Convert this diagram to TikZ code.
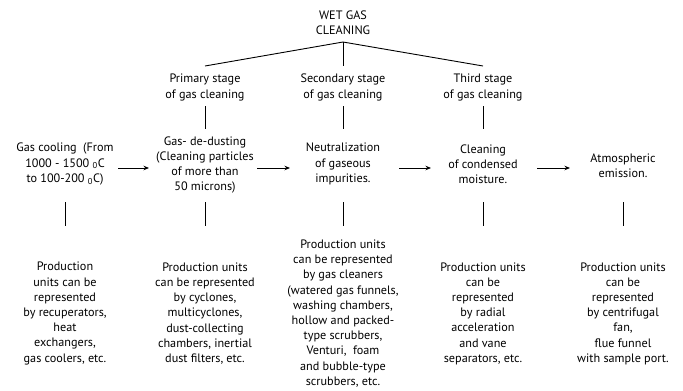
\documentclass[tikz,border=0pt]{standalone}
\usepackage{fontspec}
\setmainfont{PT Sans}
\usetikzlibrary{arrows.meta}
\begin{document}
\begin{tikzpicture}[x=1pt,y=-1pt,
  lbl/.style={align=center,font=\fontsize{12.2}{15.2}\selectfont,inner sep=0pt},
  ln/.style={line width=0.9pt},
  arr/.style={line width=0.9pt,-{Stealth[length=5.5pt,width=4.5pt]}}]
\useasboundingbox (0,0) rectangle (683,391);
% title
\node[lbl] (title) at (343,22.5) {WET GAS\\CLEANING};
\coordinate (apex) at (343,42);
% stages
\node[lbl] (s1) at (205,87.5) {Primary stage\\of gas cleaning};
\node[lbl] (s2) at (343,87.5) {Secondary stage\\of gas cleaning};
\node[lbl] (s3) at (483,87.5) {Third stage\\of gas cleaning};
\coordinate (t1) at (205,66);
\coordinate (t2) at (343,66);
\coordinate (t3) at (483,66);
\draw[ln] (t1) -- (apex) -- (t3);
\draw[ln] (apex) -- (t2);
% middle row
\node[lbl] (m1) at (65,164) {Gas cooling\ \ (From\\1000 - 1500 \textsubscript{0}C\\to 100-200 \textsubscript{0}C)};
\node[lbl] (m2) at (205,165) {Gas- de-dusting\\(Cleaning particles\\of more than\\50 microns)};
\node[lbl] (m3) at (343,164) {Neutralization\\of gaseous\\impurities.};
\node[lbl] (m4) at (483,164) {Cleaning\\of condensed\\moisture.};
\node[lbl] (m5) at (623,165.5) {Atmospheric\\emission.};
% stage-to-middle stubs
\foreach \x/\n in {205/1,343/2,483/3}{
  \coordinate (ua\n) at (\x,106);
  \coordinate (ub\n) at (\x,129);
  \draw[ln] (ua\n) -- (ub\n);
}
% arrows
\coordinate (a1s) at (118,168); \coordinate (a1e) at (149,168);
\coordinate (a2s) at (257,168); \coordinate (a2e) at (290,168);
\coordinate (a3s) at (399,168); \coordinate (a3e) at (431,168);
\coordinate (a4s) at (537,168); \coordinate (a4e) at (570,168);
\draw[arr] (a1s) -- (a1e);
\draw[arr] (a2s) -- (a2e);
\draw[arr] (a3s) -- (a3e);
\draw[arr] (a4s) -- (a4e);
% lower stubs
\foreach \x/\n in {65/1,205/2,343/3,483/4,623/5}{
  \coordinate (la\n) at (\x,202);
  \coordinate (lb\n) at (\x,226);
  \draw[ln] (la\n) -- (lb\n);
}
% bottom blocks
\node[lbl] (b1) at (65,313.5) {Production\\units can be\\represented\\by recuperators,\\heat\\exchangers,\\gas coolers, etc.};
\node[lbl] (b2) at (205,313.5) {Production units\\can be represented\\by cyclones,\\multicyclones,\\dust-collecting\\chambers, inertial\\dust filters, etc.};
\node[lbl] (b3) at (343,313.5) {Production units\\can be represented\\by gas cleaners\\(watered gas funnels,\\washing chambers,\\hollow and packed-\\type scrubbers,\\Venturi,\ \ foam\\and bubble-type\\scrubbers, etc.};
\node[lbl] (b4) at (483,313.5) {Production units\\can be\\represented\\by radial\\acceleration\\and vane\\separators, etc.};
\node[lbl] (b5) at (623,313.5) {Production units\\can be\\represented\\by centrifugal\\fan,\\flue funnel\\with sample port.};
\end{tikzpicture}
\end{document}
